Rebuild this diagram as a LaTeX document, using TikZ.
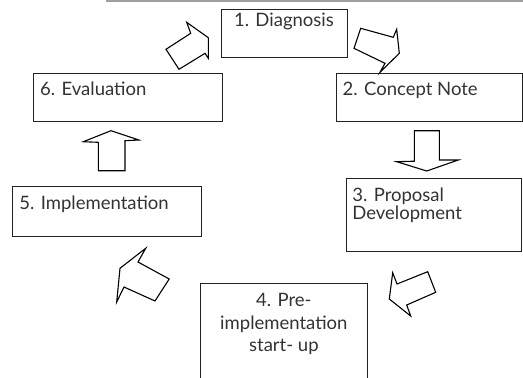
\documentclass[tikz,border=0pt]{standalone}
\usepackage{fontspec}
\setmainfont{Lato}
\usetikzlibrary{calc}
\definecolor{ink}{HTML}{222222}
\definecolor{txt}{HTML}{333333}
\definecolor{rule}{HTML}{A0A0A0}
\begin{document}
\begin{tikzpicture}[x=1pt,y=-1pt,
  stagebox/.style={draw=ink, line width=1pt, inner sep=0pt, outer sep=0pt, anchor=north west},
  lbl/.style={text=txt, inner sep=0pt, font=\fontsize{18.5}{22}\selectfont},
  blockarrow/.style={draw=black, line width=1.1pt, line join=miter, fill=white}]
\useasboundingbox (0,0) rectangle (523,378);
\clip (0,0) rectangle (523,378);

% thin rule along the top edge
\draw[rule, line width=1.5pt] (106,1) -- (523,1);

% stage boxes
\node[stagebox, minimum width=126pt, minimum height=48pt] (b1) at (221,9) {};
\node[stagebox, minimum width=186pt, minimum height=48.5pt] (b2) at (336,73.3) {};
\node[stagebox, minimum width=175pt, minimum height=73.4pt] (b3) at (346.7,178.3) {};
\node[stagebox, minimum width=167.7pt, minimum height=110pt] (b4) at (200,283.3) {};
\node[stagebox, minimum width=188.3pt, minimum height=49.3pt] (b5) at (12.7,186.7) {};
\node[stagebox, minimum width=189pt, minimum height=48.4pt] (b6) at (33.3,73.3) {};

% stage labels
\node[lbl, anchor=base] (t1) at ($(b1.north)+(0,17.5)$) {1. Diagnosis};
\node[lbl, anchor=base west] (t2) at ($(b2.north west)+(6.5,22.5)$) {2. Concept Note};
\node[lbl, anchor=base west] (t3a) at ($(b3.north west)+(5.5,23)$) {3. Proposal};
\node[lbl, anchor=base west] (t3b) at ($(t3a.base west)+(0,18.5)$) {Development};
\node[lbl, anchor=base] (t4a) at ($(b4.north)+(0,23.4)$) {4. Pre-};
\node[lbl, anchor=base] (t4b) at ($(t4a.base)+(0,22.5)$) {implementation};
\node[lbl, anchor=base] (t4c) at ($(t4b.base)+(0,22.5)$) {start- up};
\node[lbl, anchor=base west] (t5) at ($(b5.north west)+(6.5,23)$) {5. Implementation};
\node[lbl, anchor=base west] (t6) at ($(b6.north west)+(6.7,22.5)$) {6. Evaluation};

% block arrows between the stages
% 6 -> 1
\draw[blockarrow] (166,49.3) -- (190.7,33.3) -- (186.7,22.3) -- (208.3,37.7)
  -- (208.3,58.3) -- (205,53.3) -- (179,69.3) -- cycle;
% 1 -> 2
\draw[blockarrow] (360.7,28.3) -- (393.3,37.3) -- (396.7,29.3) -- (399.3,53.3)
  -- (380,72.3) -- (385,63.3) -- (354,48.3) -- cycle;
% 2 -> 3
\draw[blockarrow] (414.3,130.7) -- (439.3,130.7) -- (439.3,160) -- (458.3,160)
  -- (426.7,171) -- (396.7,161.7) -- (414.3,161.2) -- cycle;
% 3 -> 4
\draw[blockarrow] (427.7,271.7) -- (435.7,292.3) -- (406.7,305) -- (410.7,316)
  -- (389.3,299) -- (392.7,272.7) -- (397,284) -- cycle;
% 4 -> 5
\draw[blockarrow] (145.7,248.3) -- (138,262) -- (169.2,279) -- (155,301)
  -- (124,287) -- (116.7,302) -- (120,268.3) -- cycle;
% 5 -> 6
\draw[blockarrow] (98.3,170.7) -- (98.3,142.3) -- (83.3,141.7) -- (111,130.7)
  -- (139,140) -- (125,140.7) -- (125,170.7) -- cycle;
\end{tikzpicture}
\end{document}
